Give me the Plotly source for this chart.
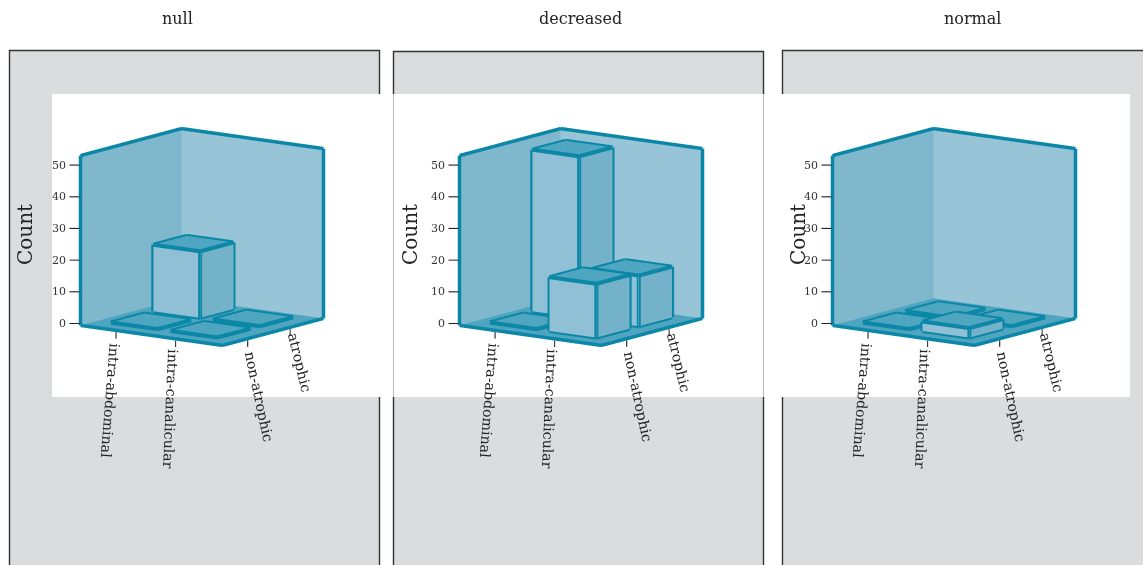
import math
import plotly.graph_objects as go

# Facets and categories
facets = ["null", "decreased", "normal"]
location = ["intra-abdominal", "intra-canalicular"]
atrophy = ["non-atrophic", "atrophic"]
count_ticks = [0, 10, 20, 30, 40, 50]

# Counts per facet, indexed as [location][atrophy]
counts_null = [[0, 21], [0, 0]]
counts_decreased = [[0, 51], [17, 16]]
counts_normal = [[0, 0], [3, 0]]
all_counts = [counts_null, counts_decreased, counts_normal]

W, H = 1143, 565
FONT = "DejaVu Serif"
EDGE = "#0a87a6"
WALL_L, WALL_R, FLOOR = "#7fb7cd", "#97c4d7", "#4fa5bf"
BAR_F, BAR_S, BAR_T = "#90c0d5", "#74b2c9", "#4fa6c0"

# Axis geometry of each cube
Z_LOW, Z_HIGH = -0.6, 53.0
BAR_POS = [0.29, 0.71]
BAR_HALF = 0.165
TICK_POS = [0.25, 0.67]
AZ = math.radians(36)
EL = math.radians(11.2)
PX_X, PX_Y, PX_Z = 175.5, 171.8, 3.23
PAD = 0.3
Z_PAD = 24.0
EYE_DIST = 2.0
ZOOM = 1.93


def quad_mesh(quads, colors):
    xs, ys, zs, i, j, k, fc = [], [], [], [], [], [], []
    for q, c in zip(quads, colors):
        n = len(xs)
        for p in q:
            xs.append(p[0]); ys.append(p[1]); zs.append(p[2])
        i += [n, n]; j += [n + 1, n + 2]; k += [n + 2, n + 3]
        fc += [c, c]
    return go.Mesh3d(
        x=xs, y=ys, z=zs, i=i, j=j, k=k, facecolor=fc, flatshading=True,
        lighting=dict(ambient=1, diffuse=0, specular=0, fresnel=0, roughness=1),
        hoverinfo="skip", showscale=False,
    )


def lines(segments, width=6, color=EDGE):
    xs, ys, zs = [], [], []
    for a, b in segments:
        xs += [a[0], b[0], None]; ys += [a[1], b[1], None]; zs += [a[2], b[2], None]
    return go.Scatter3d(x=xs, y=ys, z=zs, mode="lines", line=dict(color=color, width=width),
                        hoverinfo="skip", showlegend=False)


def bar_parts(u, v, h):
    u0, u1, v0, v1 = u - BAR_HALF, u + BAR_HALF, v - BAR_HALF, v + BAR_HALF
    t = max(h, 0.05)
    quads = [
        [(u0, v0, 0), (u1, v0, 0), (u1, v0, t), (u0, v0, t)],
        [(u1, v0, 0), (u1, v1, 0), (u1, v1, t), (u1, v0, t)],
        [(u0, v0, t), (u1, v0, t), (u1, v1, t), (u0, v1, t)],
    ]
    segs = [
        ((u0, v0, t), (u1, v0, t)), ((u1, v0, t), (u1, v1, t)),
        ((u1, v1, t), (u0, v1, t)), ((u0, v1, t), (u0, v0, t)),
        ((u0, v0, 0), (u1, v0, 0)), ((u1, v0, 0), (u1, v1, 0)),
        ((u0, v0, 0), (u0, v0, t)), ((u1, v0, 0), (u1, v0, t)), ((u1, v1, 0), (u1, v1, t)),
    ]
    return quads, [BAR_F, BAR_S, BAR_T], segs


fig = go.Figure()
centers = [201.5, 580.5, 953.5]
scene_size = 340
center_y = 237

for n, (facet, counts) in enumerate(zip(facets, all_counts)):
    scene = "scene" if n == 0 else f"scene{n + 1}"
    # Walls and floor of the cube
    fig.add_trace(quad_mesh(
        [
            [(0, 0, Z_LOW), (0, 1, Z_LOW), (0, 1, Z_HIGH), (0, 0, Z_HIGH)],
            [(0, 1, Z_LOW), (1, 1, Z_LOW), (1, 1, Z_HIGH), (0, 1, Z_HIGH)],
            [(0, 0, Z_LOW), (1, 0, Z_LOW), (1, 1, Z_LOW), (0, 1, Z_LOW)],
        ],
        [WALL_L, WALL_R, FLOOR],
    ).update(scene=scene))
    fig.add_trace(lines([
        ((0, 0, Z_LOW), (1, 0, Z_LOW)), ((1, 0, Z_LOW), (1, 1, Z_LOW)),
        ((0, 0, Z_LOW), (0, 0, Z_HIGH)), ((1, 1, Z_LOW), (1, 1, Z_HIGH)),
        ((0, 0, Z_HIGH), (0, 1, Z_HIGH)), ((0, 1, Z_HIGH), (1, 1, Z_HIGH)),
    ], width=7).update(scene=scene))

    # Bars, including the flat outlines of empty cells
    quads, colors, segs = [], [], []
    for a, u in enumerate(BAR_POS):
        for b, v in enumerate(BAR_POS):
            q, c, s = bar_parts(u, v, counts[a][b])
            quads += q; colors += c; segs += s
    fig.add_trace(quad_mesh(quads, colors).update(scene=scene))
    fig.add_trace(lines(segs, width=8).update(scene=scene))

    # Tick marks on all three axes
    du = -11 * math.cos(AZ) / PX_X
    dv = -11 * math.sin(AZ) / PX_Y
    ticks = [((0, 0, z), (du, dv, z)) for z in count_ticks]
    ticks += [((u, 0, -1.2), (u, 0, -3.2)) for u in TICK_POS]
    ticks += [((1, v, -1.2), (1, v, -3.2)) for v in TICK_POS]
    fig.add_trace(lines(ticks, width=2.2, color="#222222").update(scene=scene))

    annotations = []
    for z in count_ticks:
        annotations.append(dict(x=du, y=dv, z=z, text=str(z), showarrow=False, xanchor="right",
                                yanchor="middle", xshift=-1, font=dict(family=FONT, size=11, color="#333")))
    for u, name, ang, xs, ys in zip(TICK_POS, location, [94.4, 92.4], [-5, -5], [-2, 0]):
        annotations.append(dict(x=u, y=0, z=-3.2, text=name, showarrow=False, textangle=ang,
                                xanchor="center", yanchor="top", xshift=xs, yshift=ys,
                                font=dict(family=FONT, size=14.2, color="#222")))
    for v, name, ang, xs, ys in zip(TICK_POS, atrophy, [78, 76.5], [12, 10], [-1, 7]):
        annotations.append(dict(x=1, y=v, z=-3.2, text=name, showarrow=False, textangle=ang,
                                xanchor="center", yanchor="top", xshift=xs, yshift=ys,
                                font=dict(family=FONT, size=14.2, color="#222")))

    axis = dict(visible=False, showspikes=False)
    cx, cy = centers[n], center_y
    z_mid = (Z_LOW + Z_HIGH) / 2
    z_half = (Z_HIGH - Z_LOW) / 2 + Z_PAD
    span = 1 + 2 * PAD
    norm = max(span * PX_X, span * PX_Y, 2 * z_half * PX_Z) / ZOOM
    fig.update_layout({scene: dict(
        domain=dict(x=[(cx - scene_size / 2) / W, (cx + scene_size / 2) / W],
                    y=[1 - (cy + scene_size / 2) / H, 1 - (cy - scene_size / 2) / H]),
        xaxis=dict(range=[-PAD, 1 + PAD], **axis),
        yaxis=dict(range=[-PAD, 1 + PAD], **axis),
        zaxis=dict(range=[z_mid - z_half, z_mid + z_half], **axis),
        aspectmode="manual",
        aspectratio=dict(x=span * PX_X / norm, y=span * PX_Y / norm, z=2 * z_half * PX_Z / norm),
        bgcolor="rgba(0,0,0,0)",
        camera=dict(
            projection=dict(type="orthographic"),
            up=dict(x=0, y=0, z=1), center=dict(x=0, y=0, z=0),
            eye=dict(x=EYE_DIST * math.sin(AZ) * math.cos(EL),
                     y=-EYE_DIST * math.cos(AZ) * math.cos(EL),
                     z=EYE_DIST * math.sin(EL)),
        ),
        annotations=annotations,
    )})

# Panel backgrounds and the white band behind the cubes
panels = [(9.5, 379.5, 50.5), (393.5, 763.5, 51.5), (782.5, 1160, 50.5)]
shapes = []
for x0, x1, y0 in panels:
    shapes.append(dict(type="rect", xref="paper", yref="paper", x0=x0 / W, x1=x1 / W,
                       y0=1 - 570 / H, y1=1 - y0 / H, fillcolor="#dbdcde",
                       line=dict(color="#333333", width=1.4), layer="below"))
shapes.append(dict(type="rect", xref="paper", yref="paper", x0=52 / W, x1=1130 / W,
                   y0=1 - 397 / H, y1=1 - 94 / H, fillcolor="white", line=dict(width=0), layer="below"))
for xl in (393.5, 763.5):
    shapes.append(dict(type="line", xref="paper", yref="paper", x0=xl / W, x1=xl / W,
                       y0=1 - 397 / H, y1=1 - 94 / H, line=dict(color="#bbbbbb", width=1), layer="below"))

paper_notes = []
for facet, tx in zip(facets, [177, 580, 972]):
    paper_notes.append(dict(xref="paper", yref="paper", x=tx / W, y=1 - 18 / H, text=facet, showarrow=False,
                            xanchor="center", yanchor="middle", font=dict(family=FONT, size=16, color="#222")))
for cx in (25, 410, 798):
    paper_notes.append(dict(xref="paper", yref="paper", x=cx / W, y=1 - 235 / H, text="Count", showarrow=False,
                            textangle=-90, xanchor="center", yanchor="middle",
                            font=dict(family=FONT, size=20, color="#222")))

fig.update_layout(width=W, height=H, margin=dict(l=0, r=0, t=0, b=0), paper_bgcolor="white",
                  plot_bgcolor="white", showlegend=False, shapes=shapes, annotations=paper_notes)

fig.write_html("out.html")
